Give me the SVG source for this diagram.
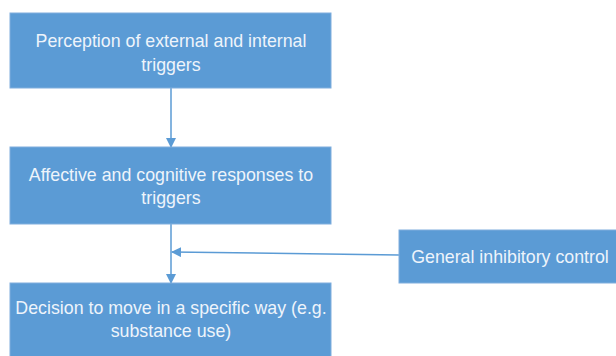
<svg xmlns="http://www.w3.org/2000/svg" width="616" height="356" viewBox="0 0 616 356">
<defs>
<style>
.box{fill:#5b9bd5;stroke:#80aedd;stroke-width:1}
.t{font-family:"Liberation Sans",Arial,sans-serif;font-size:17.8px;fill:#eef4fb;text-anchor:middle}
.c{stroke:#5b9bd5;stroke-width:1.5;fill:none}
</style>
<marker id="ah" markerWidth="10" markerHeight="10" refX="9" refY="5" orient="auto" markerUnits="userSpaceOnUse">
<path d="M0,0 L10,5 L0,10 Z" fill="#5b9bd5"/>
</marker>
</defs>
<rect width="616" height="356" fill="#ffffff"/>
<g id="connectors">
<line class="c" x1="171" y1="88" x2="171" y2="147" marker-end="url(#ah)"/>
<line class="c" x1="171" y1="224" x2="171" y2="283" marker-end="url(#ah)"/>
<line class="c" x1="399" y1="255" x2="172" y2="252" marker-end="url(#ah)"/>
</g>
<g id="node1">
<rect class="box" x="10" y="13" width="321" height="75"/>
<text class="t" x="171" y="47">Perception of external and internal</text>
<text class="t" x="171" y="71">triggers</text>
</g>
<g id="node2">
<rect class="box" x="10" y="147" width="321" height="77"/>
<text class="t" x="171" y="181">Affective and cognitive responses to</text>
<text class="t" x="171" y="204">triggers</text>
</g>
<g id="node3">
<rect class="box" x="10" y="283" width="321" height="80"/>
<text class="t" x="171" y="314">Decision to move in a specific way (e.g.</text>
<text class="t" x="171" y="337">substance use)</text>
</g>
<g id="node4">
<rect class="box" x="399" y="230" width="225" height="53"/>
<text class="t" x="510" y="263">General inhibitory control</text>
</g>
</svg>
